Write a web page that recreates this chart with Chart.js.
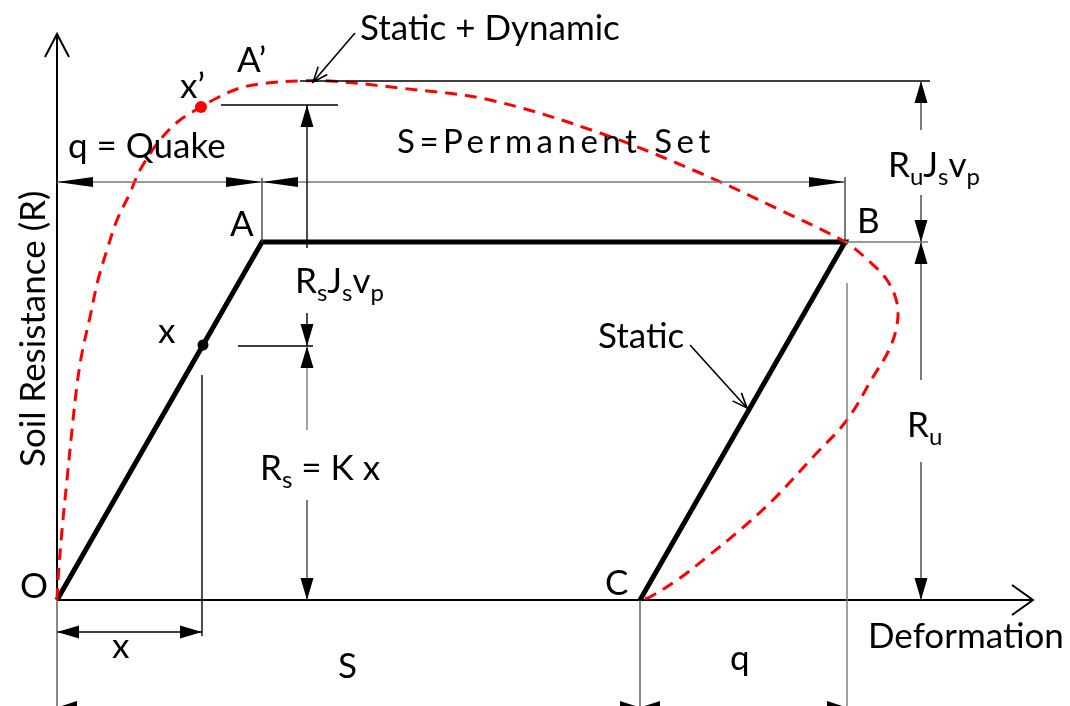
<!DOCTYPE html>
<html lang="en">
<head>
<meta charset="utf-8">
<title>Soil resistance - deformation</title>
<script src="https://cdn.jsdelivr.net/npm/chart.js"></script>
<style>
    html, body { margin: 0; padding: 0; background: #ffffff; }
    .chart-container { width: 1070px; height: 706px; position: relative; }
</style>
</head>
<body>
<div class="chart-container"><canvas id="soilChart"></canvas></div>
<script>
// drawing units: O is (0,0), deformation to the right, resistance up
const staticX = [0, 20.5, 78.8, 58.3];          // O, A, B, C
const staticY = [0, 35.8, 35.8, 0];
const dynX = [0, 0.1, 0.5, 1.0, 1.5, 2.0, 2.5, 3.3, 4.1, 5.0, 6.0, 7.3, 8.3, 10.3, 12.3, 14.4, 16.0, 18.3, 21.0, 24.3, 27.3,
              34.3, 43.3, 54.3, 64.3, 72.3, 78.8, 81.3, 83.0, 84.0, 84.0, 83.2, 81.6, 79.0, 75.6, 71.6, 68.3, 65.0, 62.3, 59.3, 58.3];
const dynY = [0, 2, 7, 12, 17, 21.5, 24.7, 28.3, 32, 35, 38, 40.7, 43, 46, 48, 49.3, 50.2, 51.2, 51.7, 51.9, 51.9,
              51.2, 50, 46.7, 42.7, 39, 35.8, 33.8, 32, 29.7, 27.5, 25, 22.3, 18, 14.3, 10, 7, 4.3, 2.2, 0.3, 0];
const pointX = [14.6];      // x on the static line
const pointY = [25.5];
const pointXpX = [14.4];    // x' on the dynamic curve
const pointXpY = [49.3];

const zip = (xs, ys) => xs.map((v, i) => ({ x: v, y: ys[i] }));

const FONT = 'Lato, "Open Sans", sans-serif';
const FS = 35;

// lines, arrows and texts of the sketch
const sketch = {
    id: 'sketch',
    beforeDatasetsDraw(chart) {
        const ctx = chart.ctx, X = v => chart.scales.x.getPixelForValue(v), Y = v => chart.scales.y.getPixelForValue(v);
        ctx.save();
        ctx.strokeStyle = '#000';
        ctx.lineWidth = 2;
        // axes
        ctx.beginPath();
        ctx.moveTo(X(0), Y(0)); ctx.lineTo(X(0), Y(56.6));
        ctx.moveTo(X(0), Y(0)); ctx.lineTo(X(97.6), Y(0));
        ctx.stroke();
        ctx.beginPath();
        ctx.moveTo(X(0) - 12, Y(56.6) + 23); ctx.lineTo(X(0), Y(56.6)); ctx.lineTo(X(0) + 12, Y(56.6) + 23);
        ctx.moveTo(X(97.6) - 21, Y(0) - 15); ctx.lineTo(X(97.6), Y(0)); ctx.lineTo(X(97.6) - 21, Y(0) + 15);
        ctx.stroke();
        ctx.restore();
    },
    afterDatasetsDraw(chart) {
        const ctx = chart.ctx, X = v => chart.scales.x.getPixelForValue(v), Y = v => chart.scales.y.getPixelForValue(v);
        const xA = staticX[1], xB = staticX[2], xC = staticX[3], yR = staticY[1];
        const yPeak = Math.max(...dynY);
        ctx.save();

        function seg(x1, y1, x2, y2, col = '#444', w = 1.4) {
            ctx.beginPath(); ctx.strokeStyle = col; ctx.lineWidth = w;
            ctx.moveTo(X(x1), Y(y1)); ctx.lineTo(X(x2), Y(y2)); ctx.stroke();
        }
        function head(fx, fy, tx, ty, len = 22, half = 6.5) {
            const px = X(tx), py = Y(ty), dx = px - X(fx), dy = py - Y(fy), d = Math.hypot(dx, dy);
            const ux = dx / d, uy = dy / d;
            ctx.beginPath(); ctx.fillStyle = '#000';
            ctx.moveTo(px, py);
            ctx.lineTo(px - ux * len - uy * half, py - uy * len + ux * half);
            ctx.lineTo(px - ux * len + uy * half, py - uy * len - ux * half);
            ctx.closePath(); ctx.fill();
        }
        function arrow(fx, fy, tx, ty, len, half, col) { seg(fx, fy, tx, ty, col); head(fx, fy, tx, ty, len, half); }
        function pointer(fx, fy, tx, ty) {
            seg(fx, fy, tx, ty, '#000', 1.6);
            const px = X(tx), py = Y(ty), dx = px - X(fx), dy = py - Y(fy), d = Math.hypot(dx, dy);
            const ux = dx / d, uy = dy / d, len = 15, half = 6;
            ctx.beginPath(); ctx.strokeStyle = '#000'; ctx.lineWidth = 1.6;
            ctx.moveTo(px - ux * len - uy * half, py - uy * len + ux * half);
            ctx.lineTo(px, py);
            ctx.lineTo(px - ux * len + uy * half, py - uy * len - ux * half);
            ctx.stroke();
        }
        function text(str, x, y, size = FS) {
            ctx.font = size + 'px ' + FONT; ctx.fillStyle = '#000'; ctx.textAlign = 'left'; ctx.textBaseline = 'alphabetic';
            ctx.fillText(str, X(x), Y(y));
        }
        function subText(parts, x, y, size = FS) {
            let px = X(x);
            ctx.fillStyle = '#000'; ctx.textAlign = 'left'; ctx.textBaseline = 'alphabetic';
            parts.forEach(([s, sub]) => {
                ctx.font = (sub ? Math.round(size * 0.68) : size) + 'px ' + FONT;
                ctx.fillText(s, px, Y(y) + (sub ? size * 0.22 : 0));
                px += ctx.measureText(s).width;
            });
        }

        // S / quake dimension above A-B
        seg(0, 41.8, xB, 41.8, '#777');
        head(xA, 41.8, 0, 41.8, 36, 5);
        head(0, 41.8, xA, 41.8, 36, 5);
        head(xB, 41.8, xA, 41.8, 36, 5);
        head(xA, 41.8, xB, 41.8, 36, 5);
        seg(xA, 35.8, xA, 42.2, '#444');
        seg(xB, 35.8, xB, 42.3, '#444');

        // A' rise
        seg(16.4, 49.5, 28.1, 49.5, '#000');
        arrow(25, 35.2, 25, 49.5, 22, 6.5, '#000');
        // peak line
        seg(24.3, yPeak, 87.3, yPeak, '#000');

        // right dimension: Ru Js vp and Ru
        arrow(86.4, 47, 86.4, yPeak, 22, 6.5, '#444');
        arrow(86.4, 40.5, 86.4, yR, 22, 6.5, '#444');
        arrow(86.4, 22, 86.4, yR, 22, 6.5, '#444');
        arrow(86.4, 13.8, 86.4, 0, 22, 6.5, '#444');
        seg(xB, yR, 87.1, yR, '#777');
        seg(79, 31.7, 79, -10.6, '#777');

        // Rs Js vp and Rs = K x
        arrow(25, 28.7, 25, 25.4, 22, 6.5, '#000');
        seg(18.1, 25.4, 25.6, 25.4, '#000');
        arrow(25, 17, 25, 25.4, 22, 6.5, '#777');
        arrow(25, 10, 25, 0, 22, 6.5, '#444');

        // x dimension
        seg(pointX[0] - 0.1, 22.5, pointX[0] - 0.1, -3.6, '#000');
        seg(0, -3.2, pointX[0] - 0.1, -3.2, '#000');
        head(pointX[0], -3.2, 0, -3.2, 22, 6.5);
        head(0, -3.2, pointX[0] - 0.1, -3.2, 22, 6.5);

        // bottom S and q dimension (cut by the edge)
        seg(0, 0, 0, -10.6, '#555');
        seg(xC, 0, xC, -10.6, '#555');
        head(xC, -10.75, 0, -10.75, 20, 6.5);
        head(0, -10.75, xC, -10.75, 20, 6.5);
        head(79, -10.75, xC, -10.75, 20, 6.5);
        head(xC, -10.75, 79, -10.75, 20, 6.5);

        // pointers
        pointer(29.8, 56.7, 25.6, 51.8);
        pointer(63.3, 25.5, 69, 19.2);

        // labels
        text('Static + Dynamic', 30.3, 56);
        text('A\u2019', 18, 52.8);
        text('x\u2019', 12.3, 50.2);
        text('q = Quake', 1.1, 44.2);
        ctx.letterSpacing = '4.5px';
        text('S=Permanent Set', 34, 44.7, 33);
        ctx.letterSpacing = '0px';
        text('A', 17.3, 36.4);
        text('B', 80, 36.7);
        subText([['R'], ['u', 1], ['J'], ['s', 1], ['v'], ['p', 1]], 83.1, 42.3);
        subText([['R'], ['s', 1], ['J'], ['s', 1], ['v'], ['p', 1]], 23.8, 30.7);
        text('x', 10.1, 25.7);
        subText([['R'], ['s', 1], [' = K x']], 20.3, 12);
        text('Static', 54.1, 25.2);
        subText([['R'], ['u', 1]], 85, 16.3);
        text('O', -3.7, 0.2);
        text('C', 54.8, 0.5);
        text('x', 5.5, -5.8);
        text('S', 28.1, -7.8);
        text('q', 67.3, -7);
        text('Deformation', 81.1, -4.8);

        ctx.translate(X(-1.2), Y(13.3));
        ctx.rotate(-Math.PI / 2);
        ctx.font = FS + 'px ' + FONT; ctx.fillStyle = '#000';
        ctx.fillText('Soil Resistance (R)', 0, 0);
        ctx.restore();
    }
};

new Chart(document.getElementById('soilChart'), {
    type: 'scatter',
    data: {
        datasets: [
            {
                label: 'x',
                data: zip(pointX, pointY),
                pointRadius: 5.5,
                pointBackgroundColor: '#000',
                pointBorderWidth: 0,
                order: 0
            },
            {
                label: 'x\u2019',
                data: zip(pointXpX, pointXpY),
                pointRadius: 6,
                pointBackgroundColor: '#ff0000',
                pointBorderWidth: 0,
                order: 0
            },
            {
                label: 'Static + Dynamic',
                data: zip(dynX, dynY),
                showLine: true,
                borderColor: '#ff0000',
                borderWidth: 3,
                borderDash: [12, 8],
                tension: 0.35,
                pointRadius: 0,
                order: 1
            },
            {
                label: 'Static',
                data: zip(staticX, staticY),
                showLine: true,
                borderColor: '#000',
                borderWidth: 5,
                borderJoinStyle: 'miter',
                tension: 0,
                pointRadius: 0,
                order: 2
            }
        ]
    },
    options: {
        responsive: true,
        maintainAspectRatio: false,
        animation: false,
        layout: { padding: 0, autoPadding: false },
        plugins: { legend: { display: false }, tooltip: { enabled: false } },
        scales: {
            x: { type: 'linear', min: -5.7, max: 101.3, display: false },
            y: { type: 'linear', min: -10.6, max: 60, display: false }
        }
    },
    plugins: [sketch]
});
</script>
</body>
</html>
